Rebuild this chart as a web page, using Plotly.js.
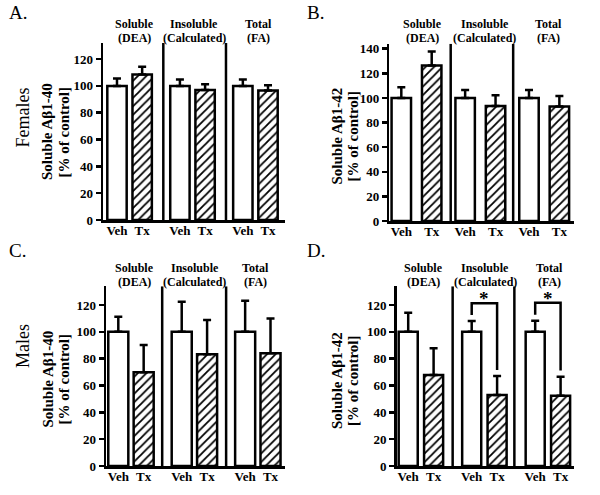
<!DOCTYPE html>
<html><head><meta charset="utf-8">
<script src="https://cdn.plot.ly/plotly-3.0.1.min.js"></script>
<style>html,body{margin:0;padding:0;background:#fff}#chart{width:600px;height:495px}</style>
</head><body><div id="chart"></div>
<script>
// ---------- data ----------
const conditions = ['Veh', 'Tx', 'Veh', 'Tx', 'Veh', 'Tx'];
const groupLine1 = ['Soluble', 'Insoluble', 'Total'];
const groupLine2 = ['(DEA)', '(Calculated)', '(FA)'];
const titleLine1 = ['Soluble A\u03b21-40', 'Soluble A\u03b21-42', 'Soluble A\u03b21-40', 'Soluble A\u03b21-42'];
const titleLine2 = '[% of control]';
const panelLetters = ['A.', 'B.', 'C.', 'D.'];
const sexLabels = ['Females', 'Males'];

// means (% of control) and SEM, order: Soluble Veh, Tx, Insoluble Veh, Tx, Total Veh, Tx
const femaleAb40Mean = [100, 108.5, 100, 97.0, 100, 96.5];
const femaleAb40Sem  = [5.5, 5.7, 4.7, 4.2, 4.7, 4.0];
const femaleAb42Mean = [100, 126.3, 100, 93.5, 100, 93.0];
const femaleAb42Sem  = [8.7, 11.4, 6.5, 8.7, 6.5, 8.6];
const maleAb40Mean   = [100, 69.8, 100, 83.2, 100, 84.0];
const maleAb40Sem    = [11.3, 20.4, 22.5, 25.6, 23.2, 26.0];
const maleAb42Mean   = [100, 67.8, 100, 52.9, 100, 52.4];
const maleAb42Sem    = [14.3, 19.9, 8.0, 14.1, 8.3, 14.2];
// significant Veh vs Tx comparisons in panel D (bar indices)
const maleAb42Sig = [[2, 3], [4, 5]];

// ---------- layout helpers ----------
const W = 600, H = 495;
const PX = px => px / W;
const PY = py => 1 - py / H;
const FONT = 'Liberation Serif, "Times New Roman", Times, serif';
const posWide = [0, 1, 2.5, 3.5, 5, 6];
const posEven = [0, 1, 2.1, 3.1, 4.2, 5.2];

const panels = [
  {mean: femaleAb40Mean, sem: femaleAb40Sem, sig: [], pos: posWide, bw: 0.77,
   xdom: [103, 285], ydom: [43, 220], xr: [-0.556, 6.675], yr: [0, 132], seps: [1.84, 4.33],
   glx: [0.68, 3.06, 5.64], gly: [24.5, 38.5], tx: [47, 63.5], ty: 132, letter: [7, 13]},
  {mean: femaleAb42Mean, sem: femaleAb42Sem, sig: [], pos: posEven, bw: 0.64,
   xdom: [389.3, 574], ydom: [43.8, 221], xr: [-0.395, 5.681], yr: [0, 144], seps: [1.625, 3.68],
   glx: [0.71, 2.74, 4.85], gly: [24.5, 38.5], tx: [336.5, 352.5], ty: 136, letter: [305, 13]},
  {mean: maleAb40Mean, sem: maleAb40Sem, sig: [], pos: posWide, bw: 0.79,
   xdom: [106, 285], ydom: [286.2, 466], xr: [-0.485, 6.571], yr: [0, 134], seps: [1.73, 4.25],
   glx: [0.63, 3.02, 5.4], gly: [267.5, 281.5], tx: [47.5, 63.5], ty: 379, letter: [7, 250]},
  {mean: maleAb42Mean, sem: maleAb42Sem, sig: maleAb42Sig, pos: posWide, bw: 0.75,
   xdom: [396.7, 574], ydom: [286.2, 466], xr: [-0.453, 6.528], yr: [0, 134], seps: [1.75, 4.18],
   glx: [0.6, 3.04, 5.57], gly: [267.5, 281.5], tx: [337, 353], ty: 381, letter: [305, 250]}
];

const traces = [];
const layout = {
  width: W, height: H, margin: {l: 0, r: 0, t: 0, b: 0},
  paper_bgcolor: 'white', plot_bgcolor: 'white', showlegend: false,
  font: {family: FONT, color: 'black'},
  shapes: [], annotations: []
};

panels.forEach((p, i) => {
  const k = i + 1;
  const xa = 'x' + k, ya = 'y' + k;
  traces.push({
    type: 'bar', x: p.pos, y: p.mean, width: p.bw, xaxis: xa, yaxis: ya,
    marker: {
      color: 'white',
      line: {color: 'black', width: 2.5},
      pattern: {shape: conditions.map(c => c === 'Tx' ? '/' : ''), fgcolor: 'black', bgcolor: 'white', size: 6, solidity: 0.3}
    },
    error_y: {type: 'data', symmetric: false, array: p.sem, arrayminus: p.sem.map(() => 0),
              color: 'black', thickness: 2.5, width: 4},
    hoverinfo: 'skip'
  });
  layout['xaxis' + k] = {
    domain: [PX(p.xdom[0]), PX(p.xdom[1])], range: p.xr, anchor: ya,
    showline: true, linecolor: 'black', linewidth: 2.5, ticks: '',
    tickvals: p.pos, ticktext: conditions, ticklabelstandoff: -3,
    tickfont: {family: FONT, size: 13, color: 'black', weight: 'bold'},
    showgrid: false, zeroline: false, fixedrange: true
  };
  layout['yaxis' + k] = {
    domain: [PY(p.ydom[1]), PY(p.ydom[0])], range: p.yr, anchor: xa,
    showline: true, linecolor: 'black', linewidth: 2.5,
    ticks: 'outside', ticklen: 5, tickwidth: 2.5, tickcolor: 'black',
    tick0: 0, dtick: 20,
    tickfont: {family: FONT, size: 13, color: 'black', weight: 'bold'},
    showgrid: false, zeroline: false, fixedrange: true
  };
  p.seps.forEach(s => layout.shapes.push({
    type: 'line', xref: xa, yref: ya, x0: s, x1: s, y0: 0, y1: p.yr[1],
    line: {color: 'black', width: 2.5}
  }));
  // group labels
  groupLine1.forEach((g, j) => {
    layout.annotations.push({xref: xa, yref: 'paper', x: p.glx[j], y: PY(p.gly[0]), text: '<b>' + g + '</b>',
      showarrow: false, xanchor: 'center', yanchor: 'middle', font: {family: FONT, size: 12}});
    layout.annotations.push({xref: xa, yref: 'paper', x: p.glx[j], y: PY(p.gly[1]), text: '<b>' + groupLine2[j] + '</b>',
      showarrow: false, xanchor: 'center', yanchor: 'middle', font: {family: FONT, size: 12}});
  });
  // y titles
  layout.annotations.push({xref: 'paper', yref: 'paper', x: PX(p.tx[0]), y: PY(p.ty), text: '<b>' + titleLine1[i] + '</b>',
    textangle: -90, showarrow: false, xanchor: 'center', yanchor: 'middle', font: {family: FONT, size: 15}});
  layout.annotations.push({xref: 'paper', yref: 'paper', x: PX(p.tx[1]), y: PY(p.ty), text: '<b>' + titleLine2 + '</b>',
    textangle: -90, showarrow: false, xanchor: 'center', yanchor: 'middle', font: {family: FONT, size: 15}});
  // panel letter
  layout.annotations.push({xref: 'paper', yref: 'paper', x: PX(p.letter[0]), y: PY(p.letter[1]), text: panelLetters[i],
    showarrow: false, xanchor: 'left', yanchor: 'middle', font: {family: FONT, size: 19}});
  // significance brackets
  p.sig.forEach(([a, b]) => {
    const va = p.mean[a] + p.sem[a], vb = p.mean[b] + p.sem[b];
    const top = Math.max(va, vb) + 13.3;
    layout.shapes.push({type: 'path', xref: xa, yref: ya,
      path: `M ${p.pos[a]},${va + 4.5} L ${p.pos[a]},${top} L ${p.pos[b]},${top} L ${p.pos[b]},${vb + 4.5}`,
      line: {color: 'black', width: 2.5}});
    layout.annotations.push({xref: xa, yref: ya, x: (p.pos[a] + p.pos[b]) / 2, y: top + 12, text: '<b>*</b>',
      showarrow: false, xanchor: 'center', yanchor: 'top', borderpad: 0, font: {family: FONT, size: 19}});
  });
});

// sex labels
layout.annotations.push({xref: 'paper', yref: 'paper', x: PX(23), y: PY(117.5), text: sexLabels[0], textangle: -90,
  showarrow: false, xanchor: 'center', yanchor: 'middle', font: {family: FONT, size: 18}});
layout.annotations.push({xref: 'paper', yref: 'paper', x: PX(23), y: PY(346), text: sexLabels[1], textangle: -90,
  showarrow: false, xanchor: 'center', yanchor: 'middle', font: {family: FONT, size: 18}});

Plotly.newPlot('chart', traces, layout, {displayModeBar: false, staticPlot: true});
</script>
</body></html>
